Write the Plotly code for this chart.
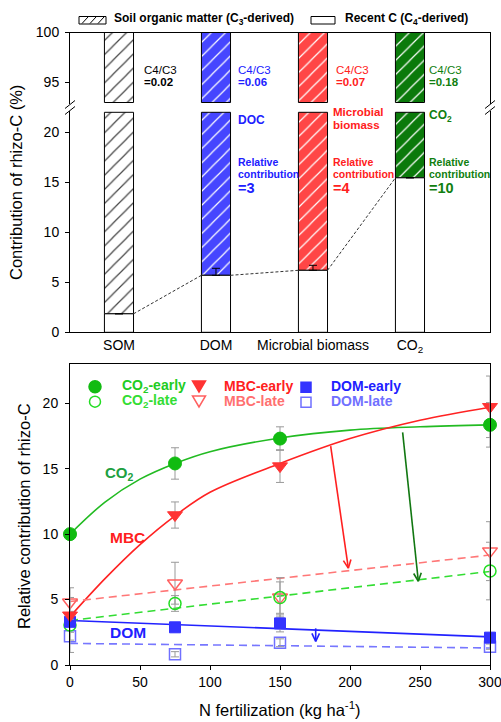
import math
import plotly.graph_objects as go

# ---------------- data ----------------
categories = ["SOM", "DOM", "Microbial biomass", "CO<sub>2</sub>"]
recent_c = [1.85, 5.7, 6.2, 15.45]          # C4-derived share (%)
recent_err = [None, 0.7, 0.5, None]
total_c = [100, 100, 100, 100]
bar_colors = ["white", "#4646ff", "#ff4646", "#0b7a0b"]

n_rate = [0, 75, 150, 300]
co2_early = [10.0, 15.4, 17.3, 18.35]
co2_early_err = [0.3, 1.2, 0.9, 1.7]
co2_late = [3.06, 4.7, 5.15, 7.18]
co2_late_err = [2.1, 0.6, 1.2, 2.2]
mbc_early = [3.8, 11.46, 15.2, 19.73]
mbc_early_err = [0.3, 1.0, 1.25, 2.35]
mbc_late = [4.8, 6.25, 5.17, 8.7]
mbc_late_err = [1.1, 1.6, 1.5, 2.25]
dom_early = [3.3, 2.88, 3.18, 2.09]
dom_early_err = [0.3, 0.3, 0.65, 0.2]
dom_late = [2.2, 0.82, 1.7, 1.4]
dom_late_err = [0.3, 0.2, 0.3, 0.2]

fit_x = [0, 25, 50, 75, 100, 150, 200, 250, 300]
co2_fit = [10.0, 12.45, 14.2, 15.4, 16.3, 17.35, 17.95, 18.2, 18.35]
mbc_fit = [3.7, 6.6, 9.2, 11.4, 13.2, 15.4, 17.3, 18.7, 19.7]
line_x = [0, 300]
co2_late_fit = [3.4, 7.15]
mbc_late_fit = [4.85, 8.4]
dom_early_fit = [3.4, 2.15]
dom_late_fit = [1.65, 1.3]

# ---------------- layout helpers ----------------
W, H = 501, 722
L, R = 70, 11
PW = W - L - R


def PX(p):
    return (p - L) / PW


def PY(p):
    return 1 - p / H


FONT = "Liberation Sans, Arial, sans-serif"
LOW_TOP = 22
UP_BASE = 93
BW = 0.3
idx = list(range(len(categories)))
PATTERN = dict(shape="/", fgcolor="black", fgopacity=1, size=10, solidity=0.12,
               fillmode="overlay")

fig = go.Figure()

# ---------- top panel ----------
fig.add_trace(go.Bar(
    x=idx, y=[LOW_TOP - v for v in recent_c], base=recent_c, width=BW,
    marker=dict(color=bar_colors, line=dict(color="black", width=1), pattern=PATTERN),
    xaxis="x", yaxis="y", showlegend=False, hoverinfo="skip"))
fig.add_trace(go.Bar(
    x=idx, y=recent_c, width=BW,
    marker=dict(color="white", line=dict(color="black", width=1)),
    error_y=dict(type="data", symmetric=False, array=recent_err,
                 arrayminus=[0] * len(recent_c), color="black", thickness=1, width=4),
    xaxis="x", yaxis="y", showlegend=False, hoverinfo="skip"))
fig.add_trace(go.Bar(
    x=idx, y=[t - UP_BASE for t in total_c], base=UP_BASE, width=BW,
    marker=dict(color=bar_colors, line=dict(color="black", width=1), pattern=PATTERN),
    xaxis="x2", yaxis="y2", showlegend=False, hoverinfo="skip"))
cx, cy = [], []
for i in range(len(idx) - 1):
    cx += [idx[i] + BW / 2, idx[i + 1] - BW / 2, None]
    cy += [recent_c[i], recent_c[i + 1], None]
fig.add_trace(go.Scatter(x=cx, y=cy, mode="lines",
                         line=dict(color="#333", width=1, dash="3px,2px"),
                         xaxis="x", yaxis="y", showlegend=False, hoverinfo="skip"))

# ---------- bottom panel ----------
lines = [
    (fit_x, co2_fit, "#22bb22", "solid", "spline"),
    (fit_x, mbc_fit, "#ff2222", "solid", "spline"),
    (line_x, dom_early_fit, "#2222ff", "solid", "linear"),
    (line_x, mbc_late_fit, "#ff7777", "8px,5px", "linear"),
    (line_x, co2_late_fit, "#33dd33", "8px,5px", "linear"),
    (line_x, dom_late_fit, "#7777ff", "8px,5px", "linear"),
]
for xs, ys, col, dash, shp in lines:
    fig.add_trace(go.Scatter(x=xs, y=ys, mode="lines",
                             line=dict(color=col, width=1.6, dash=dash, shape=shp),
                             xaxis="x3", yaxis="y3", showlegend=False, hoverinfo="skip"))

EB = dict(type="data", color="#999999", thickness=1, width=4)
series = [
    (dom_late, dom_late_err, "square-open", 11, "#7070ff", 1.5),
    (mbc_late, mbc_late_err, "triangle-down-open", 13, "#ff6060", 1.5),
    (co2_late, co2_late_err, "circle-open", 12, "#22dd22", 1.5),
    (dom_early, dom_early_err, "square", 11, "#3333ff", 1),
    (mbc_early, mbc_early_err, "triangle-down", 13, "#ff3333", 1),
    (co2_early, co2_early_err, "circle", 13, "#11bb11", 1),
]
for ys, err, sym, sz, col, lw in series:
    fig.add_trace(go.Scatter(x=n_rate, y=ys, mode="markers", cliponaxis=False,
                             marker=dict(symbol=sym, size=sz, color=col,
                                         line=dict(color=col, width=lw)),
                             error_y=dict(array=err, **EB),
                             xaxis="x3", yaxis="y3", showlegend=False, hoverinfo="skip"))

# ---------------- axes ----------------
tickfont = dict(family=FONT, size=14, color="black")
common = dict(showgrid=False, zeroline=False, automargin=False, linecolor="black",
              linewidth=1, tickcolor="black", tickfont=tickfont)

lo_dom = [PY(332.3), PY(110.7)]
up_dom = [PY(104.0), PY(32.5)]
bt_dom = [PY(665), PY(364)]

fig.update_layout(
    width=W, height=H, margin=dict(l=L, r=R, t=0, b=0),
    paper_bgcolor="white", plot_bgcolor="white", barmode="overlay",
    font=dict(family=FONT, color="black"),
    xaxis=dict(domain=[0, 1], anchor="y", range=[-0.505, 3.825], showline=True,
               ticks="", tickvals=idx, ticktext=categories, **common),
    yaxis=dict(domain=lo_dom, anchor="x", range=[0, 22.16], showline=True, mirror=True,
               ticks="outside", ticklen=4, tickvals=[0, 5, 10, 15, 20],
               ticklabelstandoff=3, **common),
    xaxis2=dict(domain=[0, 1], anchor="y2", matches="x", side="top", showline=True,
                ticks="", showticklabels=False, **common),
    yaxis2=dict(domain=up_dom, anchor="x2", range=[92.85, 100], showline=True, mirror=True,
                ticks="outside", ticklen=4, tickvals=[95, 100], ticklabelstandoff=3,
                **common),
    xaxis3=dict(domain=[0, 1], anchor="y3", range=[0, 300], showline=True, mirror=True,
                ticks="outside", ticklen=4, tickvals=[0, 50, 100, 150, 200, 250, 300],
                ticklabeloverflow="allow", **common),
    yaxis3=dict(domain=bt_dom, anchor="x3", range=[0, 23], showline=True, mirror=True,
                ticks="outside", ticklen=4, tickvals=[0, 5, 10, 15, 20],
                ticklabelstandoff=4, **common),
)

shapes = []
ann = []


def text(x, y, s, size, color="black", bold=False, anchor="left", angle=0):
    ann.append(dict(xref="paper", yref="paper", x=PX(x), y=PY(y),
                    text=f"<b>{s}</b>" if bold else s, showarrow=False,
                    xanchor=anchor, yanchor="middle", textangle=angle,
                    font=dict(family=FONT, size=size, color=color)))


def seg(x0, y0, x1, y1, color="black", width=1):
    shapes.append(dict(type="line", xref="paper", yref="paper",
                       x0=PX(x0), y0=PY(y0), x1=PX(x1), y1=PY(y1),
                       line=dict(color=color, width=width)))


# axis break marks
for bx in (70, 490):
    for by in (104.5, 110.5):
        seg(bx - 5, by + 4, bx + 5, by - 4)

# top legend
for (x0, x1) in ((79, 106), (311, 335)):
    shapes.append(dict(type="rect", xref="paper", yref="paper", x0=PX(x0), x1=PX(x1),
                       y0=PY(24), y1=PY(16.5), line=dict(color="black", width=1),
                       fillcolor="white"))
for hx in (82, 90, 98):
    seg(hx, 23.5, hx + 6, 17)
text(112, 18.5, "Soil organic matter (C<sub>3</sub>-derived)", 12, bold=True)
text(343, 18.5, "Recent C (C<sub>4</sub>-derived)", 12, bold=True)

# ratio labels upper segment
for xl, col, val in ((142, "black", "=0.02"), (236, "#2020ff", "=0.06"),
                     (334, "#ff2020", "=0.07"), (427, "#108010", "=0.18")):
    text(xl, 70.2, "C4/C3", 11.5, col)
    text(xl, 82.4, val, 11.5, col, bold=True)

text(236, 120, "DOC", 12, "#2020ff", bold=True)
text(331, 112, "Microbial", 11.5, "#ff2020", bold=True)
text(331, 125.5, "biomass", 11.5, "#ff2020", bold=True)
text(427, 116, "CO<sub>2</sub>", 12, "#108010", bold=True)
for xl, col, val in ((236, "#2020ff", "=3"), (331, "#ff2020", "=4"), (427, "#108010", "=10")):
    text(xl, 162, "Relative", 10.5, col, bold=True)
    text(xl, 173.5, "contribution", 10.5, col, bold=True)
    text(xl, 188, val, 14.5, col, bold=True)

# axis titles
text(16, 183, "Contribution of rhizo-C (%)", 16.5, anchor="center", angle=-90)
text(24, 516, "Relative contribution of rhizo-C", 16.5, anchor="center", angle=-90)
text(280, 709, "N fertilization (kg ha<sup>-1</sup>)", 16.5, anchor="center")


# bottom legend glyphs
def circ(cx, cy, r, col, fill):
    shapes.append(dict(type="circle", xref="paper", yref="paper",
                       x0=PX(cx - r), x1=PX(cx + r), y0=PY(cy + r), y1=PY(cy - r),
                       line=dict(color=col, width=1.5), fillcolor=fill))


def tri(cx, cy, col, fill):
    p = f"M{PX(cx-6.5)},{PY(cy-5.5)} L{PX(cx+6.5)},{PY(cy-5.5)} L{PX(cx)},{PY(cy+5.5)} Z"
    shapes.append(dict(type="path", xref="paper", yref="paper", path=p,
                       line=dict(color=col, width=1.5), fillcolor=fill))


def sq(cx, cy, col, fill):
    shapes.append(dict(type="rect", xref="paper", yref="paper",
                       x0=PX(cx - 5), x1=PX(cx + 5), y0=PY(cy + 5), y1=PY(cy - 5),
                       line=dict(color=col, width=1.5), fillcolor=fill))


circ(95, 386.7, 6, "#11bb11", "#11bb11")
circ(95, 401.7, 5.5, "#22dd22", "rgba(0,0,0,0)")
tri(199, 386.5, "#ff3333", "#ff3333")
tri(199, 401.5, "#ff6060", "rgba(0,0,0,0)")
sq(306, 387.3, "#3333ff", "#3333ff")
sq(306, 402.3, "#7070ff", "rgba(0,0,0,0)")
text(120, 386, "CO<sub>2</sub>-early", 14, "#22cc22", bold=True)
text(120, 401, "CO<sub>2</sub>-late", 14, "#33dd33", bold=True)
text(222, 386, "MBC-early", 14, "#ff2020", bold=True)
text(222, 401, "MBC-late", 14, "#ff7070", bold=True)
text(329, 386, "DOM-early", 14, "#2020ff", bold=True)
text(329, 401, "DOM-late", 14, "#7070ff", bold=True)

# in-panel labels
text(119, 473, "CO<sub>2</sub>", 15, "#20a040", bold=True, anchor="center")
text(127, 537, "MBC", 15.5, "#ff2020", bold=True, anchor="center")
text(128, 632, "DOM", 15.5, "#2020ff", bold=True, anchor="center")

# arrows (data coords of bottom panel)
SX = PW / 300.0
SY = (665 - 364) / 23.0


def arrow(x0, y0, x1, y1, col):
    shapes.append(dict(type="line", xref="x3", yref="y3", x0=x0, y0=y0, x1=x1, y1=y1,
                       line=dict(color=col, width=1.6)))
    dxp, dyp = (x1 - x0) * SX, (y1 - y0) * SY
    ln = math.hypot(dxp, dyp)
    ux, uy = dxp / ln, dyp / ln
    hl, ang = 9, math.radians(25)
    for s in (1, -1):
        ca, sa = math.cos(s * ang), math.sin(s * ang)
        bx = -(ux * ca - uy * sa) * hl
        by = -(ux * sa + uy * ca) * hl
        shapes.append(dict(type="line", xref="x3", yref="y3", x0=x1, y0=y1,
                           x1=x1 + bx / SX, y1=y1 + by / SY,
                           line=dict(color=col, width=1.6)))


arrow(186.2, 16.73, 198.8, 7.4, "#ff2020")
arrow(237.6, 17.78, 248.8, 6.4, "#117711")
arrow(175.5, 2.8, 175.5, 1.8, "#2020ff")

fig.update_layout(shapes=shapes, annotations=ann)
fig.write_html("out.html")
